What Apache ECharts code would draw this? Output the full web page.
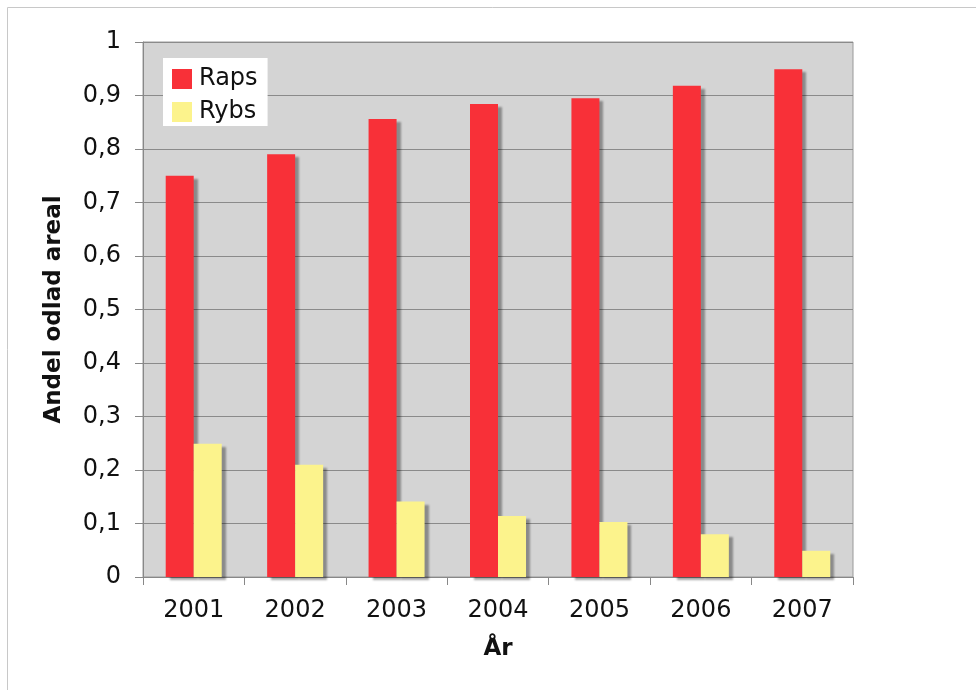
<!DOCTYPE html>
<html lang="sv">
<head>
    <meta charset="UTF-8">
    <title>Raps och rybs</title>
    <script src="https://cdn.jsdelivr.net/npm/echarts@6/dist/echarts.min.js"></script>
    <style>
        body { margin: 0; background: #fff; }
        #main { width: 976px; height: 690px; }
    </style>
</head>
<body>
<div id="main"></div>
<script>
// data
var years = ['2001', '2002', '2003', '2004', '2005', '2006', '2007'];
var raps = [0.75, 0.79, 0.856, 0.884, 0.895, 0.918, 0.949];
var rybs = [0.249, 0.21, 0.141, 0.114, 0.103, 0.08, 0.049];

var myChart = echarts.init(document.getElementById('main'));
var font = 'DejaVu Sans, Verdana, sans-serif';

option = {
  animation: false,
  graphic: [{
    type: 'rect',
    shape: { x: 7.5, y: 7.5, width: 1000, height: 1000 },
    style: { fill: 'none', stroke: '#c8c8c8', lineWidth: 1 },
    silent: true
  }],
  grid: {
    left: 143, right: 123, top: 42, bottom: 113,
    show: true,
    backgroundColor: '#d4d4d4',
    borderColor: '#9a9a9a',
    borderWidth: 1
  },
  legend: {
    orient: 'vertical',
    left: 163, top: 58,
    backgroundColor: '#ffffff',
    padding: [9, 10, 2, 9],
    itemWidth: 20, itemHeight: 20, itemGap: 9,
    icon: 'rect',
    textStyle: { fontFamily: font, fontSize: 24, color: '#111', padding: [0, 0, 0, 2] },
    data: ['Raps', 'Rybs']
  },
  xAxis: {
    type: 'category',
    data: years,
    name: 'År',
    nameLocation: 'middle',
    nameGap: 61,
    nameTextStyle: { fontFamily: font, fontSize: 23, fontWeight: 'bold', color: '#111' },
    axisLine: { lineStyle: { color: '#888', width: 1 } },
    axisTick: { show: true, length: 8, lineStyle: { color: '#888' } },
    axisLabel: { fontFamily: font, fontSize: 24, color: '#111', margin: 22 },
    splitLine: { show: false }
  },
  yAxis: {
    type: 'value',
    min: 0, max: 1, interval: 0.1,
    name: 'Andel odlad areal',
    nameLocation: 'middle',
    nameGap: 77,
    nameTextStyle: { fontFamily: font, fontSize: 23, fontWeight: 'bold', color: '#111' },
    axisLine: { show: true, lineStyle: { color: '#888', width: 1 } },
    axisTick: { show: true, length: 8, lineStyle: { color: '#888' } },
    axisLabel: {
      fontFamily: font, fontSize: 24, color: '#111', margin: 22,
      formatter: function (v) { return String(Math.round(v * 10) / 10).replace('.', ','); }
    },
    splitLine: { show: true, lineStyle: { color: '#8a8a8a', width: 1 } }
  },
  series: [
    {
      name: 'Raps',
      type: 'bar',
      data: raps,
      barWidth: 28,
      barGap: '0%',
      itemStyle: {
        color: '#f83038',
        shadowColor: 'rgba(0,0,0,0.35)',
        shadowBlur: 2,
        shadowOffsetX: 4,
        shadowOffsetY: 3
      }
    },
    {
      name: 'Rybs',
      type: 'bar',
      data: rybs,
      barWidth: 28,
      itemStyle: {
        color: '#fcf38c',
        shadowColor: 'rgba(0,0,0,0.35)',
        shadowBlur: 2,
        shadowOffsetX: 4,
        shadowOffsetY: 3
      }
    }
  ]
};

myChart.setOption(option);
</script>
</body>
</html>
